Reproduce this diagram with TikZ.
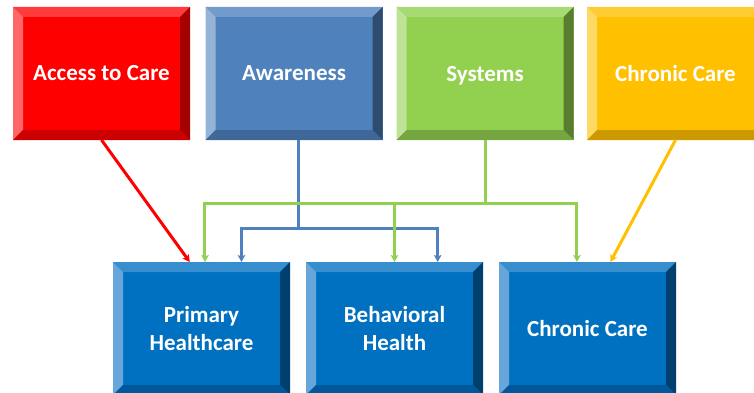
\documentclass[tikz,border=0pt]{standalone}
\usepackage{fontspec}
\setmainfont{Carlito}
\usetikzlibrary{arrows.meta,positioning}

% face / top / left / right / bottom shades of each box colour
\definecolor{careF}{HTML}{FF0000}
\definecolor{careT}{HTML}{FF3B3B}
\definecolor{careL}{HTML}{FF6666}
\definecolor{careR}{HTML}{A50000}
\definecolor{careB}{HTML}{CC0000}
\definecolor{awareF}{HTML}{4F81BD}
\definecolor{awareT}{HTML}{729ACA}
\definecolor{awareL}{HTML}{95B3D7}
\definecolor{awareR}{HTML}{2F4B6E}
\definecolor{awareB}{HTML}{3F6898}
\definecolor{sysF}{HTML}{92D050}
\definecolor{sysT}{HTML}{A8DA73}
\definecolor{sysL}{HTML}{BEE396}
\definecolor{sysR}{HTML}{587D30}
\definecolor{sysB}{HTML}{75A640}
\definecolor{chronF}{HTML}{FFC000}
\definecolor{chronT}{HTML}{FFCD33}
\definecolor{chronL}{HTML}{FFD966}
\definecolor{chronR}{HTML}{997300}
\definecolor{chronB}{HTML}{CC9A00}
\definecolor{servF}{HTML}{0070C0}
\definecolor{servT}{HTML}{368ECF}
\definecolor{servL}{HTML}{66A6DA}
\definecolor{servR}{HTML}{00406F}
\definecolor{servB}{HTML}{00589A}

\tikzset{
  bevel/.style={rectangle, fill=#1F, minimum width=177pt, minimum height=133pt,
    inner sep=0pt, outer sep=0pt, text=white, align=center,
    font=\bfseries\fontsize{23}{28}\selectfont,
    path picture={
      \coordinate (nw) at (path picture bounding box.north west);
      \coordinate (ne) at (path picture bounding box.north east);
      \coordinate (se) at (path picture bounding box.south east);
      \coordinate (sw) at (path picture bounding box.south west);
      % the four slanted edges
      \fill[#1T] (nw) -- (ne) -- ([shift={(-10pt,-10pt)}]ne) -- ([shift={(10pt,-10pt)}]nw) -- cycle;
      \fill[#1L] (nw) -- ([shift={(10pt,-10pt)}]nw) -- ([shift={(10pt,10pt)}]sw) -- (sw) -- cycle;
      \fill[#1R] (ne) -- (se) -- ([shift={(-10pt,10pt)}]se) -- ([shift={(-10pt,-10pt)}]ne) -- cycle;
      \fill[#1B] (sw) -- ([shift={(10pt,10pt)}]sw) -- ([shift={(-10pt,10pt)}]se) -- (se) -- cycle;
    }},
  link/.style={draw=#1F, line width=3pt, -{Stealth[length=7pt,width=7.5pt,inset=1.5pt]}}
}

\begin{document}
\begin{tikzpicture}[x=1pt, y=1pt]
\useasboundingbox (0,0) rectangle (754,392);
\clip (0,0) rectangle (754,392);
% top row
\node[bevel=care] (access) at (101.5,318.5) {Access to Care};
\node[bevel=aware] (aware) at (294,318.5) {Awareness};
\node[bevel=sys, text depth=0pt] (systems) at (485,318.5) {Systems};
\node[bevel=chron] (chronic) at (675.5,318.5) {Chronic Care};
% bottom row
\node[bevel=serv] (primary) at (201.5,63.5) {Primary\\Healthcare};
\node[bevel=serv] (behav) at (394.5,63.5) {Behavioral\\Health};
\node[bevel=serv] (chroncare) at (587.5,63.5) {Chronic Care};

% connectors
\draw[link=care] (access.south) -- (primary.100);
\draw[link=aware] ([xshift=4pt]aware.south) -- ++(0,-88) -| (primary.59);
\draw[link=aware] ([xshift=4pt]aware.south) -- ++(0,-88) -| (behav.57);
\draw[link=sys] (systems.south) -- ++(0,-63) -| (primary.87);
\draw[link=sys] (systems.south) -- ++(0,-63) -| (behav.north);
\draw[link=sys] (systems.south) -- ++(0,-63) -| (chroncare.99);
\draw[link=chron] (chronic.south) -- (chroncare.71);
\end{tikzpicture}
\end{document}
